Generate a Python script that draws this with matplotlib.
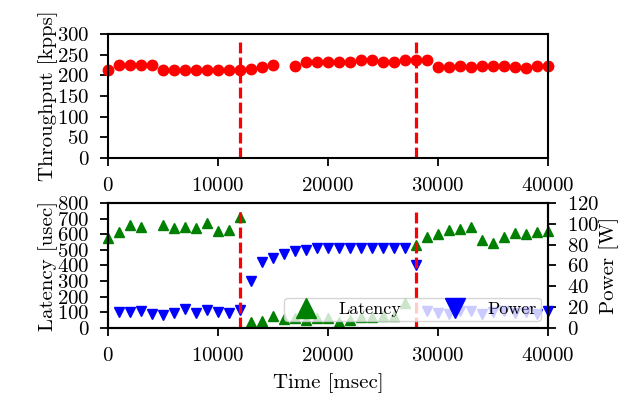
import numpy as np
import matplotlib
matplotlib.use('Agg')
import matplotlib.pyplot as plt

plt.rcParams['font.family'] = 'serif'
plt.rcParams['font.serif'] = ['cmr10']
plt.rcParams['mathtext.fontset'] = 'cm'
plt.rcParams['axes.formatter.use_mathtext'] = True
plt.rcParams['font.size'] = 15

nan = np.nan

# sample times (msec), one sample per second
time_ms = np.arange(0, 40001, 1000)

throughput = [212, 224, 224, 224, 224, 212, 212, 212, 212, 212, 212,
              212, 212, 216, 220, 226, nan, 223, 233, 233, 233, 233,
              232, 236, 237, 233, 233, 237, 236, 237, 220, 220, 223,
              220, 223, 223, 223, 220, 217, 223, 223]

latency = [573, 614, 657, 647, nan, 657, 638, 647, 638, 670, 619,
           627, 713, 37, 45, 75, 58, 65, 51, 61, 64, 38,
           48, 70, 67, 75, 75, 160, 529, 582, 599, 625, 631,
           646, 561, 546, 582, 608, 599, 614, 621]

power = [nan, 15.1, 15.7, 16.7, 13.5, 12.5, 14.1, 18.0, 14.1, 17.4, 15.1,
         14.1, 17.0, 44.7, 63.3, 67.6, 70.8, 74.3, 75.3, 76.3, 76.5, 76.8,
         77.0, 77.0, 77.0, 77.2, 77.2, 77.2, 60.1, 16.7, 14.1, 13.1, 16.7,
         16.7, 13.5, 15.7, 16.7, 14.1, 15.7, 13.1, 16.4]

# phase change markers
events = [12000, 28000]

fig = plt.figure(figsize=(6.19, 3.98), dpi=100)
ax1 = fig.add_axes([0.1745, 0.603, 0.7108, 0.3116])
ax2 = fig.add_axes([0.1745, 0.176, 0.7108, 0.314])
ax3 = ax2.twinx()

ax1.plot(time_ms, throughput, 'o', color='red', ms=7.5, clip_on=False)
for t in events:
    ax1.axvline(t, ymax=0.95, color='red', ls='--', lw=2.3, dashes=(3.4, 1.3))
ax1.set_xlim(0, 40000)
ax1.set_ylim(0, 300)
ax1.set_yticks(np.arange(0, 301, 50))
ax1.set_xticks(np.arange(0, 40001, 10000))
ax1.set_ylabel('Throughput [kpps]', labelpad=-1)

l1, = ax2.plot(time_ms, latency, '^', color='green', ms=7.5, clip_on=False,
               label='Latency')
l2, = ax3.plot(time_ms, power, 'v', color='blue', ms=7.5, clip_on=False,
               label='Power')
for t in events:
    ax3.axvline(t, ymax=0.95, color='red', ls='--', lw=2.3, dashes=(3.4, 1.3))
ax2.set_xlim(0, 40000)
ax2.set_ylim(0, 800)
ax2.set_yticks(np.arange(0, 801, 100))
ax2.set_xticks(np.arange(0, 40001, 10000))
ax3.set_ylim(0, 120)
ax3.set_yticks(np.arange(0, 121, 20))
ax2.set_xlabel('Time [msec]', labelpad=6)
ax2.set_ylabel('Latency [usec]', labelpad=-1)
ax3.set_ylabel('Power [W]', labelpad=0)

ax3.legend([l1, l2], ['Latency', 'Power'], loc='lower right', ncol=2,
           markerscale=2, fontsize=13, framealpha=0.8, borderpad=0.2,
           borderaxespad=0.4)

for ax in (ax1, ax2, ax3):
    for s in ax.spines.values():
        s.set_linewidth(1.5)
    ax.tick_params(width=1.3, length=5.5, pad=8)

fig.savefig('out.png', dpi=100)
